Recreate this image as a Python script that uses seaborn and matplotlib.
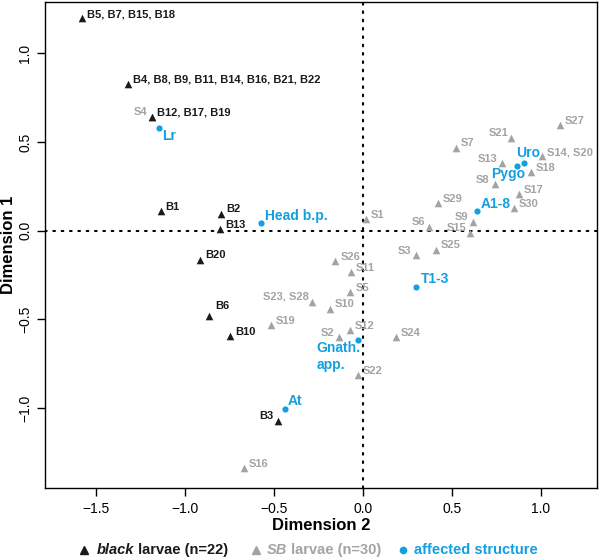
import matplotlib
matplotlib.use("Agg")
import matplotlib.pyplot as plt
from matplotlib.lines import Line2D
from matplotlib.ticker import MultipleLocator
import seaborn as sns
import pandas as pd

sns.set_theme(style="ticks")
plt.rcParams['font.family'] = ['Liberation Sans', 'DejaVu Sans']
plt.rcParams['axes.unicode_minus'] = True

# ---------------- data ----------------
black_names = ["B5, B7, B15, B18", "B4, B8, B9, B11, B14, B16, B21, B22",
               "B12, B17, B19", "B1", "B2", "B13", "B20", "B6", "B10", "B3"]
black_x = [-1.582, -1.320, -1.185, -1.138, -0.796, -0.805, -0.917, -0.867, -0.749, -0.481]
black_y = [1.198, 0.828, 0.644, 0.109, 0.096, 0.011, -0.163, -0.479, -0.592, -1.070]

sb_names = ["S4", "S27", "S21", "S7", "S14, S20", "S13", "S18", "S8", "S17", "S30",
            "S29", "S1", "S9", "S6", "S15", "S3", "S25", "S26", "S11", "S5",
            "S23, S28", "S10", "S19", "S12", "S2", "S24", "S22", "S16"]
sb_x = [-1.185, 1.105, 0.834, 0.521, 1.008, 0.783, 0.942, 0.740, 0.876, 0.848,
        0.420, 0.015, 0.618, 0.371, 0.599, 0.296, 0.408, -0.155, -0.069, -0.071,
        -0.287, -0.185, -0.520, -0.075, -0.138, 0.184, -0.030, -0.670]
sb_y = [0.644, 0.597, 0.526, 0.469, 0.419, 0.381, 0.331, 0.265, 0.208, 0.128,
        0.156, 0.066, 0.051, 0.021, -0.013, -0.137, -0.107, -0.173, -0.233, -0.345,
        -0.404, -0.439, -0.533, -0.562, -0.601, -0.599, -0.815, -1.339]

aff_names = ["Lr", "Head b.p.", "Uro", "Pygo", "A1-8", "T1-3", "Gnath.\napp.", "At"]
aff_x = [-1.146, -0.576, 0.903, 0.863, 0.639, 0.300, -0.028, -0.440]
aff_y = [0.582, 0.043, 0.385, 0.366, 0.109, -0.314, -0.614, -1.005]

# ---------------- label placement (pixels: dx, dy up, ha) ----------------
default_off = (5, 4.3, "left")
label_off = {
    "S4": (-5, 5, "right"), "S21": (-3, 5, "right"), "S13": (-5, 4, "right"),
    "S8": (-5, 4, "right"), "S9": (-4.3, 4.7, "right"), "S6": (-4.3, 4.6, "right"),
    "S15": (-3.3, 5, "right"), "S3": (-4.3, 4.3, "right"), "S23, S28": (-3, 6, "right"),
    "S2": (-4.4, 4.4, "right"), "B3": (-3.7, 5, "right"), "B6": (6, 9.3, "left"),
    "Lr": (3, -8, "left"), "Head b.p.": (4, 7.5, "left"), "Uro": (4, 10, "center"),
    "Pygo": (-8, -8, "center"), "A1-8": (4, 7.5, "left"), "T1-3": (4, 7.4, "left"),
    "Gnath.\napp.": (-41.6, -16.5, "left"), "At": (3.3, 7.6, "left"),
}

BLACK = "#1a1a1a"
GRAY = "#a3a3a3"
BLUE = "#139fe0"
PX = 0.72  # points per pixel at 100 dpi

fig = plt.figure(figsize=(6, 5.59), dpi=100)
ax = fig.add_axes([45 / 600, 71 / 559, 552 / 600, 486 / 559])

df_sb = pd.DataFrame({"x": sb_x, "y": sb_y, "name": sb_names})
df_b = pd.DataFrame({"x": black_x, "y": black_y, "name": black_names})
df_a = pd.DataFrame({"x": aff_x, "y": aff_y, "name": aff_names})

ax.axhline(0, color="black", lw=1.5, ls=(0, (0.8, 3.2)), dash_capstyle="round", zorder=1)
ax.axvline(0, color="black", lw=1.5, ls=(0, (0.8, 3.2)), dash_capstyle="round", zorder=1)

sns.scatterplot(data=df_sb, x="x", y="y", marker="^", color=GRAY, s=30, linewidth=0, ax=ax, zorder=3)
sns.scatterplot(data=df_b, x="x", y="y", marker="^", color=BLACK, s=30, linewidth=0, ax=ax, zorder=4)
sns.scatterplot(data=df_a, x="x", y="y", marker="o", color=BLUE, s=20, linewidth=0, ax=ax, zorder=5)


def label(df, color, size):
    for _, r in df.iterrows():
        dx, dy, ha = label_off.get(r["name"], default_off)
        ax.annotate(r["name"], (r["x"], r["y"]), xytext=(dx * PX, dy * PX),
                    textcoords="offset points", ha=ha, va="center",
                    fontsize=size, fontweight="bold", color=color,
                    linespacing=1.3, zorder=6)


label(df_sb, GRAY, 8)
label(df_b, BLACK, 8)
label(df_a, BLUE, 10)

ax.set_xlim(-1.788, 1.315)
ax.set_ylim(-1.45, 1.29)
ax.xaxis.set_major_locator(MultipleLocator(0.5))
ax.yaxis.set_major_locator(MultipleLocator(0.5))
for s in ax.spines.values():
    s.set_visible(True)
    s.set_color("black")
    s.set_linewidth(1.0)
ax.tick_params(axis="both", direction="out", length=6, width=1, color="black",
               labelsize=10, labelcolor="black")
ax.tick_params(axis="x", pad=4)
ax.tick_params(axis="y", pad=3)
for t in ax.get_yticklabels():
    t.set_rotation(90)
    t.set_va("center")

ax.set_xlabel("Dimension 2", fontsize=12, fontweight="bold", color="black")
ax.set_ylabel("Dimension 1", fontsize=12, fontweight="bold", color="black")
ax.xaxis.set_label_coords(0.5, (488 - 525.7) / 486)
ax.xaxis.label.set_va("center")
ax.yaxis.set_label_coords((8.5 - 45) / 552, 0.5)
ax.yaxis.label.set_va("center")

# ---------------- legend ----------------
ly = 1 - 550 / 559
def fx(px):
    return px / 600

fig.add_artist(Line2D([fx(84)], [ly], marker="^", color=BLACK, ms=5.5, lw=0, transform=fig.transFigure))
fig.add_artist(Line2D([fx(256)], [ly], marker="^", color=GRAY, ms=5.5, lw=0, transform=fig.transFigure))
fig.add_artist(Line2D([fx(403.3)], [ly], marker="o", color=BLUE, ms=4.5, lw=0, transform=fig.transFigure))

LFS = 10.5
t1 = fig.text(fx(96.7), ly, "black", fontsize=LFS, fontweight="bold", fontstyle="italic",
              color=BLACK, ha="left", va="center")
fig.add_artist(plt.Annotation(" larvae (n=22)", xy=(1, 0), xycoords=t1, ha="left", va="bottom",
                              fontsize=LFS, fontweight="bold", color=BLACK))
t2 = fig.text(fx(266.7), ly, "SB", fontsize=LFS, fontweight="bold", fontstyle="italic",
              color=GRAY, ha="left", va="center")
fig.add_artist(plt.Annotation(" larvae (n=30)", xy=(1, 0), xycoords=t2, ha="left", va="bottom",
                              fontsize=LFS, fontweight="bold", color=GRAY))
fig.text(fx(414), ly, "affected structure", fontsize=LFS, fontweight="bold",
         color=BLUE, ha="left", va="center")

fig.savefig("out.png", dpi=100)
